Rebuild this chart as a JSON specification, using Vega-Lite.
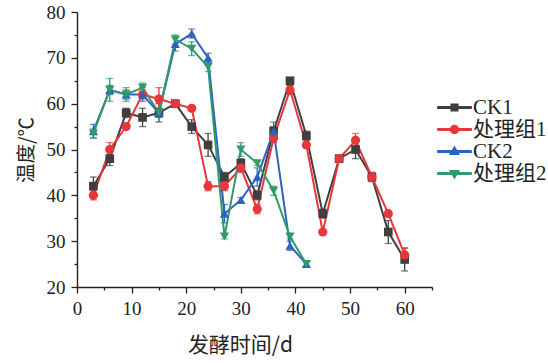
{
  "$schema": "https://vega.github.io/schema/vega-lite/v6.json",
  "autosize": "none",
  "width": 355,
  "height": 275,
  "padding": {"left": 77, "top": 12, "right": 116, "bottom": 76},
  "background": "white",
  "config": {
    "view": {"stroke": null},
    "font": "Liberation Serif, Noto Sans CJK SC",
    "axis": {
      "domainColor": "#222", "domainWidth": 1.4, "tickColor": "#222", "tickWidth": 1.3,
      "grid": false, "labelFont": "Liberation Serif", "labelFontSize": 19, "labelColor": "#222",
      "titleFont": "Noto Sans CJK SC", "titleFontSize": 19.5, "titleFontWeight": "normal", "titleColor": "#222"
    }
  },
  "data": {"values": [
    {"group": "CK1", "day": 3, "temp": 42, "err": 2},
    {"group": "CK1", "day": 6, "temp": 48, "err": 1.5},
    {"group": "CK1", "day": 9, "temp": 58, "err": 1},
    {"group": "CK1", "day": 12, "temp": 57, "err": 2},
    {"group": "CK1", "day": 15, "temp": 58, "err": 2},
    {"group": "CK1", "day": 18, "temp": 60, "err": 0.5},
    {"group": "CK1", "day": 21, "temp": 55, "err": 1.5},
    {"group": "CK1", "day": 24, "temp": 51, "err": 2.5},
    {"group": "CK1", "day": 27, "temp": 44, "err": 1},
    {"group": "CK1", "day": 30, "temp": 47, "err": 1},
    {"group": "CK1", "day": 33, "temp": 40, "err": 1},
    {"group": "CK1", "day": 36, "temp": 54, "err": 1},
    {"group": "CK1", "day": 39, "temp": 65, "err": 0.5},
    {"group": "CK1", "day": 42, "temp": 53, "err": 1},
    {"group": "CK1", "day": 45, "temp": 36, "err": 1},
    {"group": "CK1", "day": 48, "temp": 48, "err": 0.5},
    {"group": "CK1", "day": 51, "temp": 50, "err": 2},
    {"group": "CK1", "day": 54, "temp": 44, "err": 1},
    {"group": "CK1", "day": 57, "temp": 32, "err": 2.5},
    {"group": "CK1", "day": 60, "temp": 26, "err": 2.5},
    {"group": "处理组1", "day": 3, "temp": 40, "err": 1},
    {"group": "处理组1", "day": 6, "temp": 50, "err": 1.5},
    {"group": "处理组1", "day": 9, "temp": 55, "err": 0.5},
    {"group": "处理组1", "day": 12, "temp": 62, "err": 1},
    {"group": "处理组1", "day": 15, "temp": 61, "err": 2.5},
    {"group": "处理组1", "day": 18, "temp": 60, "err": 0.5},
    {"group": "处理组1", "day": 21, "temp": 59, "err": 0.5},
    {"group": "处理组1", "day": 24, "temp": 42, "err": 1},
    {"group": "处理组1", "day": 27, "temp": 42, "err": 1},
    {"group": "处理组1", "day": 30, "temp": 46, "err": 1},
    {"group": "处理组1", "day": 33, "temp": 37, "err": 1},
    {"group": "处理组1", "day": 36, "temp": 52.5, "err": 1},
    {"group": "处理组1", "day": 39, "temp": 63, "err": 1},
    {"group": "处理组1", "day": 42, "temp": 51, "err": 0.5},
    {"group": "处理组1", "day": 45, "temp": 32, "err": 0.5},
    {"group": "处理组1", "day": 48, "temp": 48, "err": 0.5},
    {"group": "处理组1", "day": 51, "temp": 52, "err": 1.5},
    {"group": "处理组1", "day": 54, "temp": 44, "err": 0.5},
    {"group": "处理组1", "day": 57, "temp": 36, "err": 0.5},
    {"group": "处理组1", "day": 60, "temp": 27, "err": 1.5},
    {"group": "CK2", "day": 3, "temp": 54, "err": 1.5},
    {"group": "CK2", "day": 6, "temp": 63, "err": 1},
    {"group": "CK2", "day": 9, "temp": 62, "err": 1},
    {"group": "CK2", "day": 12, "temp": 62, "err": 1.5},
    {"group": "CK2", "day": 15, "temp": 58, "err": 1},
    {"group": "CK2", "day": 18, "temp": 73, "err": 1.5},
    {"group": "CK2", "day": 21, "temp": 75.3, "err": 1},
    {"group": "CK2", "day": 24, "temp": 70, "err": 1},
    {"group": "CK2", "day": 27, "temp": 36, "err": 2},
    {"group": "CK2", "day": 30, "temp": 39, "err": 0.5},
    {"group": "CK2", "day": 33, "temp": 44, "err": 2},
    {"group": "CK2", "day": 36, "temp": 54, "err": 2},
    {"group": "CK2", "day": 39, "temp": 29, "err": 1},
    {"group": "CK2", "day": 42, "temp": 25, "err": 0.5},
    {"group": "处理组2", "day": 3, "temp": 53.5, "err": 1},
    {"group": "处理组2", "day": 6, "temp": 63, "err": 2.5},
    {"group": "处理组2", "day": 9, "temp": 62, "err": 1.5},
    {"group": "处理组2", "day": 12, "temp": 63.5, "err": 1},
    {"group": "处理组2", "day": 15, "temp": 58, "err": 1},
    {"group": "处理组2", "day": 18, "temp": 74, "err": 1},
    {"group": "处理组2", "day": 21, "temp": 72, "err": 1.5},
    {"group": "处理组2", "day": 24, "temp": 68, "err": 1},
    {"group": "处理组2", "day": 27, "temp": 31, "err": 0.5},
    {"group": "处理组2", "day": 30, "temp": 50, "err": 1.5},
    {"group": "处理组2", "day": 33, "temp": 47, "err": 0.5},
    {"group": "处理组2", "day": 36, "temp": 41, "err": 1},
    {"group": "处理组2", "day": 39, "temp": 31, "err": 0.5},
    {"group": "处理组2", "day": 42, "temp": 25, "err": 0.5}
  ]},
  "encoding": {
    "x": {"field": "day", "type": "quantitative", "scale": {"domain": [0, 65], "nice": false, "zero": false},
      "axis": {"values": [0, 5, 10, 15, 20, 25, 30, 35, 40, 45, 50, 55, 60, 65],
        "labelExpr": "datum.value % 10 === 0 && datum.value <= 60 ? datum.label : ''",
        "tickSize": {"condition": {"test": "datum.value % 10 === 0", "value": 6}, "value": 3},
        "labelPadding": 6, "title": "发酵时间/d", "titlePadding": 16, "titleFontSize": 21, "titleX": 163, "labelFlush": false}},
    "y": {"field": "temp", "type": "quantitative", "scale": {"domain": [20, 80], "nice": false, "zero": false},
      "axis": {"values": [20, 25, 30, 35, 40, 45, 50, 55, 60, 65, 70, 75, 80],
        "labelExpr": "datum.value % 10 === 0 ? datum.label : ''",
        "tickSize": {"condition": {"test": "datum.value % 10 === 0", "value": 6}, "value": 3},
        "labelPadding": 6, "title": "温度/℃", "titlePadding": 10, "labelFlush": false}}
  },
  "layer": [
    {"mark": {"type": "errorbar", "ticks": {"size": 7}, "thickness": 1.3},
     "encoding": {"yError": {"field": "err"},
       "color": {"field": "group", "type": "nominal"}}},
    {"mark": {"type": "line", "strokeWidth": 2},
     "encoding": {"color": {"field": "group", "type": "nominal",
        "scale": {"domain": ["CK1", "处理组1", "CK2", "处理组2"], "range": ["#3f3f3f", "#e6373b", "#2e62c0", "#2f9a6a"]},
        "legend": {"orient": "none", "legendX": 360, "legendY": 85, "title": null,
          "symbolSize": 1100, "clipHeight": 21, "labelFont": "Liberation Serif, Noto Sans CJK SC", "labelFontSize": 21, "labelColor": "#222",
          "labelOffset": 1, "rowPadding": 0,
          "encode": {"symbols": {"update": {
            "shape": {"signal": "datum.value === 'CK1' ? 'M-1,-0.045H-0.2V0.045H-1Z M0.2,-0.045H1V0.045H0.2Z M-0.2,-0.2H0.2V0.2H-0.2Z' : datum.value === '处理组1' ? 'M-1,-0.045H-0.2V0.045H-1Z M0.2,-0.045H1V0.045H0.2Z M-0.24,0A0.24,0.24 0 1,0 0.24,0A0.24,0.24 0 1,0 -0.24,0Z' : datum.value === 'CK2' ? 'M-1,-0.045H-0.2V0.045H-1Z M0.2,-0.045H1V0.045H0.2Z M0,-0.27L0.26,0.17H-0.26Z' : 'M-1,-0.045H-0.2V0.045H-1Z M0.2,-0.045H1V0.045H0.2Z M0,0.27L0.26,-0.17H-0.26Z'"},
            "fill": {"scale": "color", "field": "value"},
            "stroke": {"value": "transparent"},
            "opacity": {"value": 1}
          }}}
        }}, "order": {"field": "day"}}},
    {"transform": [{"filter": "datum.group === 'CK1'"}],
     "mark": {"type": "point", "filled": true, "opacity": 1, "size": 75, "shape": "square"},
     "encoding": {"color": {"field": "group", "type": "nominal"}}},
    {"transform": [{"filter": "datum.group === '处理组1'"}],
     "mark": {"type": "point", "filled": true, "opacity": 1, "size": 85, "shape": "circle"},
     "encoding": {"color": {"field": "group", "type": "nominal"}}},
    {"transform": [{"filter": "datum.group === 'CK2'"}],
     "mark": {"type": "point", "filled": true, "opacity": 1, "size": 85, "shape": "triangle-up"},
     "encoding": {"color": {"field": "group", "type": "nominal"}}},
    {"transform": [{"filter": "datum.group === '处理组2'"}],
     "mark": {"type": "point", "filled": true, "opacity": 1, "size": 85, "shape": "triangle-down"},
     "encoding": {"color": {"field": "group", "type": "nominal"}}}
  ]
}
